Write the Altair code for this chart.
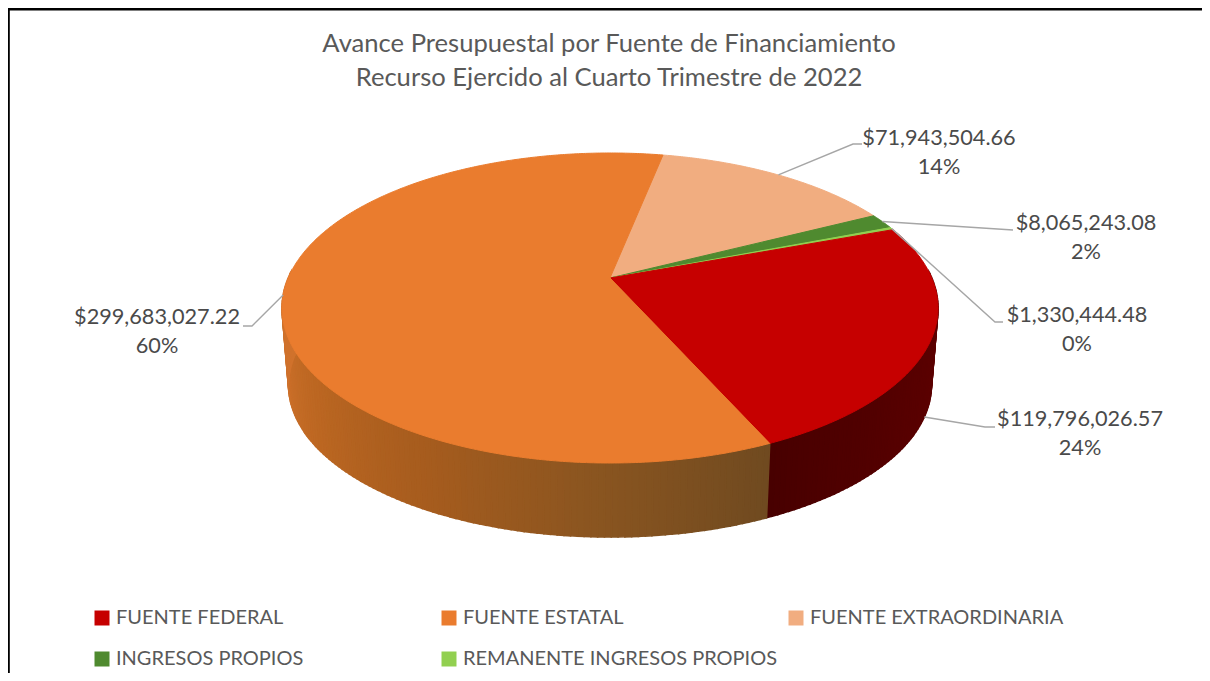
import math
import altair as alt
import pandas as pd

# ---------- data ----------
names = ["FUENTE FEDERAL", "FUENTE ESTATAL", "FUENTE EXTRAORDINARIA",
         "INGRESOS PROPIOS", "REMANENTE INGRESOS PROPIOS"]
values = [119796026.57, 299683027.22, 71943504.66, 8065243.08, 1330444.48]
colors = ["#C60000", "#EA7C2E", "#F1AD80", "#4F8A2F", "#92D050"]
draw_order = [2, 3, 4, 0, 1]          # clockwise from the start angle
title_lines = ["Avance Presupuestal por Fuente de Financiamiento",
               "Recurso Ejercido al Cuarto Trimestre de 2022"]
# wall shading along each front slice
wall_shades = {0: ["#4A0000", "#5E0000", "#560000", "#480000"],
               1: ["#6F4A20", "#8A5520", "#A65C1E", "#BC6722", "#D0722C"]}
# label anchors per series (page pixels): text centre, first-line y, elbow start/end
label_x = [1080, 157, 939, 1086, 1077]
label_y = [419, 317, 138, 223, 315]
elbow_a = [(985, 427), (252, 326), (853, 144), (1013, 230), (995, 322)]
elbow_b = [(995, 427), (243, 326), (862, 144), (1013, 230), (1003, 322)]

# ---------- 3-D pie geometry (page pixels) ----------
OX, OY = 8, 8
CX, CY = 610, 278
A, B, K = 321.8, 149.2, 0.1935
BOT_Y, BOT_S = 355.7, 0.98
START = 11.3


def rim(theta, bottom=False):
    t = math.radians(theta)
    u, v = math.sin(t), math.cos(t)
    d = 1 + K * v
    s, cy = (BOT_S, BOT_Y) if bottom else (1, CY)
    return [CX + s * A * u / d - OX, cy - s * B * v / d - OY]


def arange(a, b, step=1.0):
    n = max(1, int(math.ceil((b - a) / step)))
    return [a + (b - a) * i / n for i in range(n + 1)]


def mix(c1, c2, f):
    p = [int(c1[i:i + 2], 16) for i in (1, 3, 5)]
    q = [int(c2[i:i + 2], 16) for i in (1, 3, 5)]
    return "#%02x%02x%02x" % tuple(round(x + (y - x) * f) for x, y in zip(p, q))


def shade(stops, f):
    pos = f * (len(stops) - 1)
    i = min(int(pos), len(stops) - 2)
    return mix(stops[i], stops[i + 1], pos - i)


total = sum(values)
spans = {}
t = START
for idx in draw_order:
    spans[idx] = (t, t + values[idx] / total * 360)
    t = spans[idx][1]

# wall strips
strips = []
for idx in (0, 1):
    a, b = spans[idx]
    angs = arange(a, b, 1.0)
    for t0, t1 in zip(angs[:-1], angs[1:]):
        if math.cos(math.radians((t0 + t1) / 2)) > 0.05:
            continue
        ring = [rim(t0), rim(t1), rim(t1, True), rim(t0, True), rim(t0)]
        if idx == 0:
            col = shade(wall_shades[0], ((t0 + t1) / 2 - a) / (b - a))
        else:
            col = shade(wall_shades[1], min(1, max(0, ((t0 + t1) / 2 - a) / 105)))
        strips.append({"type": "Feature",
                       "geometry": {"type": "Polygon", "coordinates": [ring]},
                       "properties": {"color": col}})

# top-face wedges
wedges = []
for idx in draw_order:
    a, b = spans[idx]
    ring = [[CX - OX, CY - OY]] + [rim(x) for x in arange(a, b, 0.5)] + [[CX - OX, CY - OY]]
    wedges.append({"type": "Feature",
                   "geometry": {"type": "Polygon", "coordinates": [ring]},
                   "properties": {"name": names[idx]}})

# leader lines
leaders = []
for i in range(len(names)):
    a, b = spans[i]
    start = rim((a + b) / 2, bottom=(i == 0))
    pts = [start,
           [elbow_a[i][0] - OX, elbow_a[i][1] - OY],
           [elbow_b[i][0] - OX, elbow_b[i][1] - OY]]
    leaders.append({"type": "Feature",
                    "geometry": {"type": "LineString", "coordinates": pts},
                    "properties": {"name": names[i]}})

frame = [{"type": "Feature",
          "geometry": {"type": "LineString",
                       "coordinates": [[0.6, 665], [0.6, 1.2], [1194, 1.2]]},
          "properties": {"name": "frame"}}]

labels = pd.DataFrame({
    "x": [x - OX for x in label_x],
    "y": [y - OY for y in label_y],
    "text": [f"${v:,.2f}\n{round(v / total * 100)}%" for v in values],
})

proj = alt.Projection(type="identity", scale=1, translate=[0, 0])
FONT = "Lato"

wall = (alt.Chart(alt.Data(values=strips))
        .mark_geoshape(strokeWidth=1.6)
        .encode(fill=alt.Fill("properties.color:N", scale=None),
                stroke=alt.Stroke("properties.color:N", scale=None))
        .project(**proj.to_dict()))

top = (alt.Chart(alt.Data(values=wedges))
       .mark_geoshape(strokeWidth=1)
       .encode(fill=alt.Fill("properties.name:N",
                             scale=alt.Scale(domain=names, range=colors),
                             sort=names,
                             legend=alt.Legend(
                                 orient="none", legendX=84, legendY=600,
                                 columns=3, gridAlign="all", direction="horizontal",
                                 columnPadding=8, rowPadding=21,
                                 title=None, symbolType="square", symbolSize=225,
                                 symbolStrokeWidth=0, labelFont=FONT, labelFontSize=20,
                                 labelColor="#595959", labelOffset=4, labelLimit=420)),
               stroke=alt.Stroke("properties.name:N",
                                 scale=alt.Scale(domain=names, range=colors),
                                 legend=None))
       .project(**proj.to_dict()))

lead = (alt.Chart(alt.Data(values=leaders))
        .mark_geoshape(filled=False, stroke="#A6A6A6", strokeWidth=1.4)
        .project(**proj.to_dict()))

box = (alt.Chart(alt.Data(values=frame))
       .mark_geoshape(filled=False, stroke="#000000", strokeWidth=2.4)
       .project(**proj.to_dict()))

text = (alt.Chart(labels)
        .mark_text(font=FONT, fontSize=21.7, color="#4A4A4A", lineBreak="\n",
                   lineHeight=29, align="center", baseline="middle")
        .encode(x=alt.X("x:Q", scale=None, axis=None),
                y=alt.Y("y:Q", scale=None, axis=None),
                text="text:N"))

chart = (alt.layer(box, wall, top, lead, text)
         .properties(width=1194, height=665, padding=0,
                     autosize=alt.AutoSizeParams(type="none"),
                     title=alt.TitleParams(text=title_lines, anchor="middle", dx=4, dy=87.5,
                                           font=FONT, fontSize=25.6, fontWeight="normal",
                                           color="#595959", lineHeight=34))
         .configure_view(stroke=None))

chart.save("out.html", embed_options={"renderer": "svg", "actions": False})
